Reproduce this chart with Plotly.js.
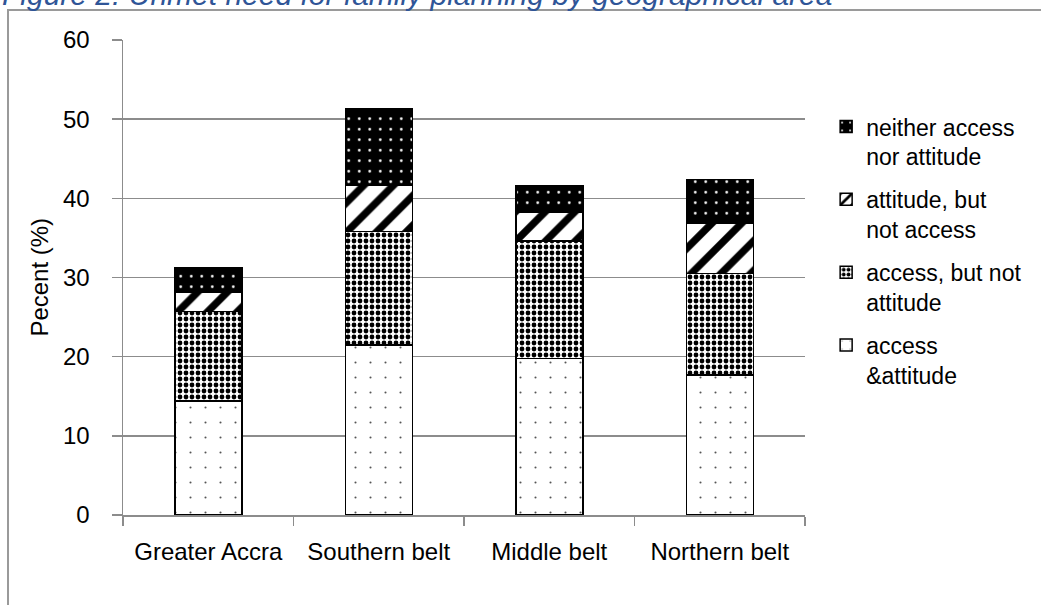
<!DOCTYPE html>
<html>
<head>
<meta charset="utf-8">
<script src="https://cdn.plot.ly/plotly-3.0.1.min.js"></script>
<style>
  html, body { margin: 0; padding: 0; background: #ffffff; }
  #chart { width: 1041px; height: 605px; }
</style>
</head>
<body>
<div id="chart"></div>
<script>
// ---- data (percent) ----
var categories = ['Greater Accra', 'Southern belt', 'Middle belt', 'Northern belt'];
var accessAttitude    = [14.4, 21.5, 19.8, 17.7];
var accessNotAttitude = [11.3, 14.3, 14.8, 12.8];
var attitudeNotAccess = [2.5, 5.8, 3.7, 6.4];
var neitherAccessNorAttitude = [3.0, 9.7, 3.3, 5.5];
var seriesNames = ['access<br>&attitude', 'access, but not<br>attitude', 'attitude, but<br>not access', 'neither access<br>nor attitude'];
var yTickVals = [0, 10, 20, 30, 40, 50, 60];
var chartTitle = 'Figure 2: Unmet need for family planning by geographical area';
var yTitle = 'Pecent (%)';

var FONT = 'Liberation Sans, Arial, sans-serif';
var GRID = '#8c8c8c';

function barTrace(name, values, group, rank, bg, fg, shape, size, solidity) {
  return {
    type: 'bar',
    name: name,
    x: categories,
    y: values,
    legendgroup: group,
    legendrank: rank,
    marker: {
      color: bg,
      line: { color: '#000000', width: 1.5 },
      pattern: { shape: shape, bgcolor: bg, fgcolor: fg, size: size, solidity: solidity, fillmode: 'replace' }
    },
    hoverinfo: 'x+y+name'
  };
}

var traces = [
  barTrace(seriesNames[0], accessAttitude, 'g1', 4, '#ffffff', '#555555', '.', 15, 0.015),
  barTrace(seriesNames[1], accessNotAttitude, 'g2', 3, '#ffffff', '#000000', '.', 6, 0.5),
  barTrace(seriesNames[2], attitudeNotAccess, 'g3', 2, '#ffffff', '#000000', '/', 21, 0.35),
  barTrace(seriesNames[3], neitherAccessNorAttitude, 'g4', 1, '#000000', '#ffffff', '.', 10.5, 0.05)
];

var layout = {
  width: 1041,
  height: 605,
  paper_bgcolor: '#ffffff',
  plot_bgcolor: '#ffffff',
  margin: { l: 123, r: 236, t: 40, b: 90, pad: 0, autoexpand: false },
  barmode: 'stack',
  bargap: 0.607,
  showlegend: true,
  font: { family: FONT, size: 23, color: '#000000' },
  xaxis: {
    type: 'category',
    tickson: 'boundaries',
    ticks: 'outside',
    ticklen: 9,
    tickwidth: 1.5,
    tickcolor: GRID,
    showline: true,
    linecolor: GRID,
    linewidth: 1.5,
    showgrid: false,
    zeroline: false,
    tickangle: 0,
    ticklabelstandoff: 15,
    tickfont: { family: FONT, size: 24, color: '#000000' },
    automargin: false,
    fixedrange: true
  },
  yaxis: {
    range: [0, 60],
    tickmode: 'array',
    tickvals: yTickVals,
    ticktext: yTickVals.map(String),
    ticks: 'outside',
    ticklen: 10,
    tickwidth: 1.5,
    tickcolor: GRID,
    showline: true,
    linecolor: GRID,
    linewidth: 1.5,
    showgrid: true,
    gridcolor: GRID,
    gridwidth: 1.5,
    zeroline: false,
    ticklabelstandoff: 17,
    tickfont: { family: FONT, size: 24, color: '#000000' },
    automargin: false,
    fixedrange: true
  },
  legend: {
    x: 1.031, xanchor: 'left',
    y: 0.863, yanchor: 'top',
    traceorder: 'grouped',
    tracegroupgap: 10,
    valign: 'top',
    itemwidth: 30,
    bgcolor: 'rgba(0,0,0,0)',
    font: { family: FONT, size: 23, color: '#000000' }
  },
  annotations: [
    {
      text: '<i>' + chartTitle + '</i>',
      xref: 'paper', yref: 'paper',
      x: -0.1804, xanchor: 'left',
      y: 1.095, yanchor: 'middle',
      showarrow: false,
      font: { family: FONT, size: 30, color: '#2F5597' }
    },
    {
      text: yTitle,
      xref: 'paper', yref: 'paper',
      x: -0.123, xanchor: 'center',
      y: 0.5, yanchor: 'middle',
      textangle: -90,
      showarrow: false,
      font: { family: FONT, size: 24, color: '#000000' }
    }
  ],
  shapes: [{
    type: 'path',
    xref: 'paper', yref: 'paper',
    path: 'M -0.1686,-0.25 L -0.1686,1.0632 L 1.4,1.0632',
    line: { color: '#9a9a9a', width: 2 },
    layer: 'below'
  }]
};

Plotly.newPlot('chart', traces, layout, { displayModeBar: false, staticPlot: true });
</script>
</body>
</html>
